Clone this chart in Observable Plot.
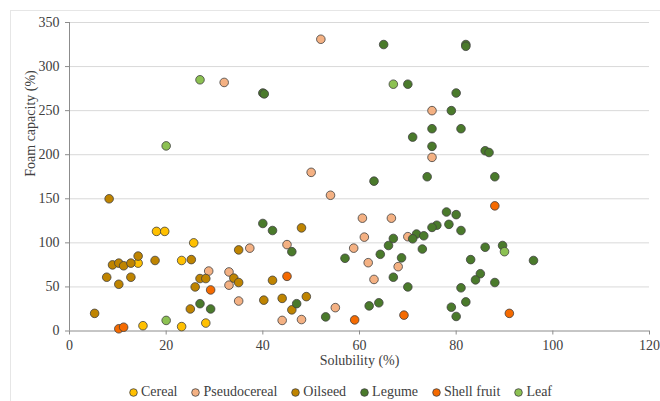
<!DOCTYPE html>
<html>
<head>
<meta charset="utf-8">
<script src="https://cdn.jsdelivr.net/npm/d3@7"></script>
<script src="https://cdn.jsdelivr.net/npm/@observablehq/plot@0.6"></script>
<style>
  html, body { margin: 0; padding: 0; background: #fff; overflow: hidden; }
  #wrap { position: relative; width: 660px; height: 401px; font-family: "Liberation Serif", "Tinos", "DejaVu Serif", serif; }
  #frame { position: absolute; left: 10px; top: 10px; width: 700px; height: 500px; border: 1px solid #e6e6e6; box-sizing: border-box; pointer-events: none; }
  #chart { position: absolute; left: 0; top: 0; }
  #legend { position: absolute; left: 0; top: 383px; width: 681px; height: 18px; display: flex; justify-content: center; align-items: center; gap: 14px; font-size: 14px; color: #404040; line-height: 18px; }
  .item { display: flex; align-items: center; gap: 3px; white-space: nowrap; }
  svg text { font-family: "Liberation Serif", "Tinos", "DejaVu Serif", serif; }
</style>
</head>
<body>
<div id="wrap">
  <div id="frame"></div>
  <div id="chart"></div>
  <div id="legend"></div>
</div>
<script>
// Categories and colours
const categories = ["Cereal", "Pseudocereal", "Oilseed", "Legume", "Shell fruit", "Leaf"];
const colors = ["#FFC000", "#F4B183", "#BF8400", "#4A7A2B", "#F56A00", "#8CC152"];

// [solubility %, foam capacity %]
const cereal = [[18,113],[19.7,113],[25.7,100],[14.2,77],[23.2,80],[15.2,6],[23.2,5],[28.2,9]];
const pseudocereal = [[28.8,68],[33,67],[33,52],[35,34],[37.3,94],[45,98],[44,12],[48,13],[55,26.5],[50,180],[54,154],[52,331],[32,282],[60.6,128],[66.6,128],[61,106.5],[58.8,94],[61.8,77.5],[63,58.5],[68,73],[70,107],[75,250],[75,197]];
const oilseed = [[8.2,150],[14.2,85],[17.7,80],[25.2,81],[8.9,75],[10.2,77],[11.2,74],[12.7,77],[7.7,61],[12.7,61],[10.2,53],[5.2,20],[25,25],[26,50],[27,59.5],[28.2,59.5],[34,60],[35,55],[35,92],[48,117],[42,57.5],[40.2,35],[44,37],[49,39],[46,24]];
const legume = [[27,31],[29.2,25],[40,122],[42,114],[46,90],[47,31],[53,16],[57,82.5],[62,28.5],[64,32],[63,170],[64.3,87],[66,97],[67,105],[67,61],[68.7,83],[40,270],[40.3,269],[65,325],[82,325],[82,323],[70,280],[80,270],[79,250],[75,229.5],[81,229.5],[71,220],[75,209.5],[86,204.5],[86.8,202.5],[74,175],[88,175],[78,135],[80,132],[78.5,121],[76,120],[75,117.5],[81,114],[71.8,110],[73.3,108],[71,104.6],[73,93],[86,95],[89.6,97],[83,81],[85,65],[84,58],[88,55],[70,50],[81,49],[82,33],[79,27],[80,16.5],[96,80]];
const shellFruit = [[10.2,2.5],[11.2,4.3],[29.2,46.6],[45,62],[59,12.6],[69.2,18],[88,142],[91,20]];
const leaf = [[27,285],[20,210],[20,12],[67,280],[90,90]];

const xTicks = [0, 20, 40, 60, 80, 100, 120];
const yTicks = [0, 50, 100, 150, 200, 250, 300, 350];
const xTitle = "Solubility (%)";
const yTitle = "Foam capacity (%)";

const seriesList = [cereal, pseudocereal, oilseed, legume, shellFruit, leaf];
const data = seriesList.flatMap((pts, i) => pts.map(([x, y]) => ({cat: categories[i], x, y})));

const serif = "'Liberation Serif', 'Tinos', 'DejaVu Serif', serif";
const axisColor = "#8c8c8c";
const textColor = "#404040";

const chart = Plot.plot({
  width: 660,
  height: 375,
  marginTop: 22,
  marginLeft: 69,
  marginRight: 11,
  marginBottom: 44.5,
  style: {fontFamily: serif, fontSize: "14px", color: textColor, background: "transparent"},
  x: {domain: [0, 120]},
  y: {domain: [0, 350]},
  color: {domain: categories, range: colors},
  marks: [
    Plot.ruleY(yTicks.slice(1), {stroke: "#d9d9d9", strokeWidth: 1}),
    Plot.ruleX([0], {stroke: axisColor}),
    Plot.ruleY([0], {stroke: axisColor}),
    Plot.axisY({ticks: yTicks, tickSize: 4, tickPadding: 6, stroke: axisColor, label: null, fill: textColor, fontFamily: serif}),
    Plot.axisX({ticks: xTicks, tickSize: 4, tickPadding: 5, stroke: axisColor, label: null, fill: textColor, fontFamily: serif}),
    Plot.dot(data, {x: "x", y: "y", fill: "cat", r: 4.3, stroke: "#404040", strokeWidth: 0.8}),
    Plot.text([xTitle], {frameAnchor: "bottom", dy: 34, fill: textColor, fontSize: 14, fontFamily: serif}),
    Plot.text([yTitle], {frameAnchor: "left", rotate: -90, dx: -39, fill: textColor, fontSize: 14, fontFamily: serif})
  ]
});
document.getElementById("chart").appendChild(chart);

const legend = document.getElementById("legend");
categories.forEach((c, i) => {
  const item = document.createElement("span");
  item.className = "item";
  item.innerHTML = `<svg width="9" height="9"><circle cx="4.5" cy="4.5" r="3.8" fill="${colors[i]}" stroke="#404040" stroke-width="0.8"/></svg><span>${c}</span>`;
  legend.appendChild(item);
});
</script>
</body>
</html>
